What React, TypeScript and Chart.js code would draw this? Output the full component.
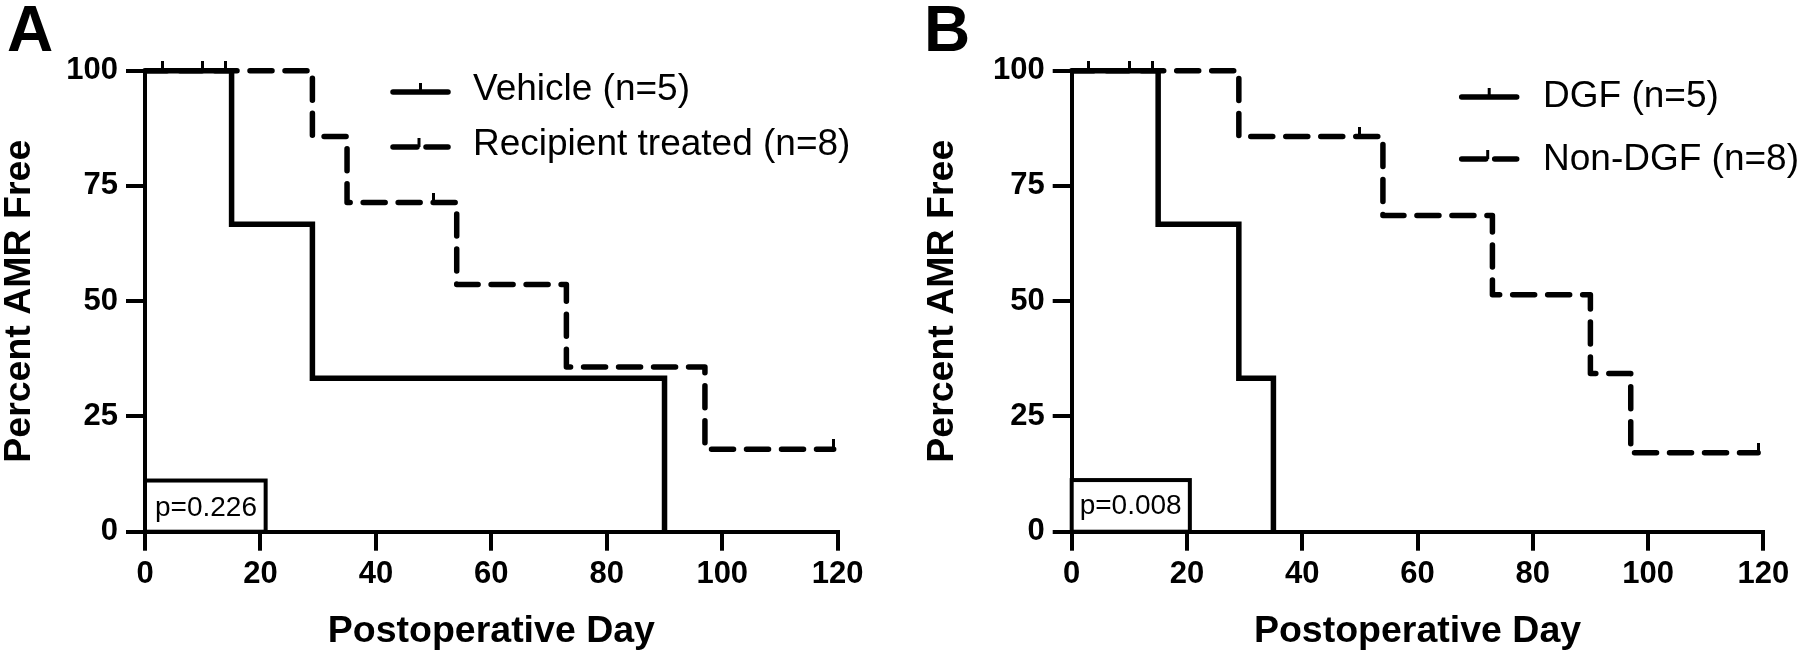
import React, { useEffect, useRef } from 'react';
import { Chart, registerables } from 'chart.js';

Chart.register(...registerables);

const FONT = '"Liberation Sans", Arial, Helvetica, sans-serif';

// Axis ticks
const xTickStep = 20;
const xMin = 0;
const xMax = 120;
const yTickStep = 25;
const yMin = 0;
const yMax = 100;

// Panel A
const panelALetter = 'A';
const panelALabels = ['Vehicle (n=5)', 'Recipient treated (n=8)'];
const panelAP = 'p=0.226';
const vehicleDays = [0, 15, 29, 90];
const vehiclePct = [100, 66.7, 33.3, 0];
const vehicleCensorDays = [3, 10];
const vehicleCensorPct = [100, 100];
const recipientDays = [0, 29, 35, 54, 73, 97, 119.3];
const recipientPct = [100, 85.7, 71.4, 53.6, 35.7, 17.9, 17.9];
const recipientCensorDays = [14, 50, 119.3];
const recipientCensorPct = [100, 71.4, 17.9];

// Panel B
const panelBLetter = 'B';
const panelBLabels = ['DGF (n=5)', 'Non-DGF (n=8)'];
const panelBP = 'p=0.008';
const dgfDays = [0, 15, 29, 35];
const dgfPct = [100, 66.7, 33.3, 0];
const dgfCensorDays = [3, 10];
const dgfCensorPct = [100, 100];
const nonDgfDays = [0, 29, 54, 73, 90, 97, 119.1];
const nonDgfPct = [100, 85.7, 68.6, 51.4, 34.3, 17.1, 17.1];
const nonDgfCensorDays = [14, 50, 119.1];
const nonDgfCensorPct = [100, 85.7, 17.1];

const xTitle = 'Postoperative Day';
const yTitle = 'Percent AMR Free';

function zip(xs: number[], ys: number[]) {
  return xs.map((x, i) => ({ x, y: ys[i] }));
}

let tickImg: HTMLCanvasElement | null = null;
function censorTick(): HTMLCanvasElement {
  if (tickImg) return tickImg;
  const c = document.createElement('canvas');
  c.width = 3;
  c.height = 20;
  const ctx = c.getContext('2d')!;
  ctx.fillStyle = '#000';
  ctx.fillRect(0, 0, 3, 10);
  tickImg = c;
  return c;
}

const kmLegendPlugin = {
  id: 'kmLegend',
  afterDatasetsDraw(chart: any, _args: any, opts: any) {
    const ctx = chart.ctx as CanvasRenderingContext2D;
    const items = chart.data.datasets.filter((d: any) => d.kmLegend);
    ctx.save();
    items.forEach((ds: any, i: number) => {
      const ly = opts.lineY[i];
      const x0 = opts.x;
      const x1 = opts.x + opts.lineLength;
      ctx.strokeStyle = '#000';
      ctx.lineWidth = 5.5;
      ctx.lineCap = 'round';
      const seg = (a: number, b: number) => {
        ctx.beginPath();
        ctx.moveTo(a, ly);
        ctx.lineTo(b, ly);
        ctx.stroke();
      };
      let tickX;
      if (ds.borderDash && ds.borderDash.length) {
        seg(x0, x0 + 24);
        seg(x0 + 33, x1);
        tickX = x0 + 26;
      } else {
        seg(x0, x1);
        tickX = (x0 + x1) / 2;
      }
      ctx.lineCap = 'butt';
      ctx.lineWidth = 3;
      ctx.beginPath();
      ctx.moveTo(tickX, ly);
      ctx.lineTo(tickX, ly - 9);
      ctx.stroke();
      ctx.fillStyle = '#000';
      ctx.font = `37px ${FONT}`;
      ctx.textBaseline = 'middle';
      ctx.textAlign = 'left';
      ctx.fillText(ds.label, opts.textX, opts.textY[i]);
    });
    ctx.restore();
  },
};

const pBoxPlugin = {
  id: 'pBox',
  afterDatasetsDraw(chart: any, _args: any, opts: any) {
    const ctx = chart.ctx as CanvasRenderingContext2D;
    const xs = chart.scales.x;
    const ys = chart.scales.y;
    const l = xs.getPixelForValue(0);
    const r = xs.getPixelForValue(opts.boxDay);
    const t = ys.getPixelForValue(opts.boxPct);
    const b = ys.getPixelForValue(0);
    ctx.save();
    ctx.fillStyle = '#fff';
    ctx.fillRect(l, t, r - l, b - t);
    ctx.strokeStyle = '#000';
    ctx.lineWidth = 4;
    ctx.strokeRect(l, t, r - l, b - t);
    ctx.fillStyle = '#000';
    ctx.font = `28px ${FONT}`;
    ctx.textBaseline = 'alphabetic';
    ctx.textAlign = 'left';
    ctx.fillText(opts.text, l + opts.textDx, b - opts.textDy);
    ctx.restore();
  },
};

type PanelSpec = {
  letter: string;
  labels: string[];
  p: string;
  solid: { x: number; y: number }[];
  solidCensor: { x: number; y: number }[];
  dashed: { x: number; y: number }[];
  dashedCensor: { x: number; y: number }[];
  padLeft: number;
  padRight: number;
  yWidth: number;
  yTitlePad: number;
  legend: any;
  pbox: any;
};

function makeConfig(s: PanelSpec): any {
  const tick = censorTick();
  return {
    type: 'line',
    data: {
      datasets: [
        {
          label: s.labels[0],
          kmLegend: true,
          data: s.solid,
          borderColor: '#000',
          borderWidth: 5.5,
          stepped: 'before',
          pointRadius: 0,
          fill: false,
          borderCapStyle: 'butt',
          borderJoinStyle: 'miter',
          clip: false,
        },
        {
          label: s.labels[1],
          kmLegend: true,
          data: s.dashed,
          borderColor: '#000',
          borderWidth: 5.5,
          borderDash: [22, 13],
          borderCapStyle: 'round',
          borderJoinStyle: 'round',
          stepped: 'before',
          pointRadius: 0,
          fill: false,
          clip: false,
        },
        {
          label: s.labels[0] + ' censored',
          data: s.solidCensor,
          showLine: false,
          pointStyle: tick,
          pointRadius: 5,
          clip: false,
        },
        {
          label: s.labels[1] + ' censored',
          data: s.dashedCensor,
          showLine: false,
          pointStyle: tick,
          pointRadius: 5,
          clip: false,
        },
      ],
    },
    options: {
      responsive: false,
      animation: false,
      events: [],
      layout: { padding: { left: s.padLeft, right: s.padRight, top: 0, bottom: 0 } },
      plugins: {
        legend: { display: false },
        tooltip: { enabled: false },
        title: {
          display: true,
          text: s.letter,
          align: 'start',
          color: '#000',
          font: { family: FONT, size: 64, weight: 'bold', lineHeight: 1 },
          padding: { top: 1.6, bottom: 5.1 },
        },
        kmLegend: s.legend,
        pBox: s.pbox,
      },
      scales: {
        x: {
          type: 'linear',
          min: xMin,
          max: xMax,
          afterFit: (scale: any) => {
            scale.height = 124.3;
          },
          ticks: {
            stepSize: xTickStep,
            color: '#000',
            padding: 5,
            font: { family: FONT, size: 31, weight: 'bold' },
            maxRotation: 0,
            autoSkip: false,
          },
          grid: {
            drawOnChartArea: false,
            drawTicks: true,
            tickLength: 19,
            tickWidth: 4,
            lineWidth: 4,
            color: '#000',
            tickColor: '#000',
          },
          border: { display: true, color: '#000', width: 4 },
          title: {
            display: true,
            text: xTitle,
            color: '#000',
            font: { family: FONT, size: 37.5, weight: 'bold', lineHeight: 1 },
            padding: { top: 0, bottom: 6 },
          },
        },
        y: {
          type: 'linear',
          min: yMin,
          max: yMax,
          afterFit: (scale: any) => {
            scale.width = s.yWidth;
          },
          ticks: {
            stepSize: yTickStep,
            color: '#000',
            padding: 8,
            font: { family: FONT, size: 31, weight: 'bold' },
          },
          grid: {
            drawOnChartArea: false,
            drawTicks: true,
            tickLength: 19,
            tickWidth: 4,
            lineWidth: 4,
            color: '#000',
            tickColor: '#000',
          },
          border: { display: true, color: '#000', width: 4 },
          title: {
            display: true,
            text: yTitle,
            color: '#000',
            font: { family: FONT, size: 37.5, weight: 'bold', lineHeight: 1 },
            padding: { top: s.yTitlePad, bottom: 0 },
          },
        },
      },
    },
    plugins: [kmLegendPlugin, pBoxPlugin],
  };
}

const panelA: PanelSpec = {
  letter: panelALetter,
  labels: panelALabels,
  p: panelAP,
  solid: zip(vehicleDays, vehiclePct),
  solidCensor: zip(vehicleCensorDays, vehicleCensorPct),
  dashed: zip(recipientDays, recipientPct),
  dashedCensor: zip(recipientCensorDays, recipientCensorPct),
  padLeft: 7,
  padRight: 62.3,
  yWidth: 138,
  yTitlePad: -6,
  legend: { x: 393, lineLength: 55, lineY: [92, 147], textX: 473, textY: [90, 145] },
  pbox: { text: panelAP, boxDay: 20.9, boxPct: 11.1, textDx: 10, textDy: 16 },
};

const panelB: PanelSpec = {
  letter: panelBLetter,
  labels: panelBLabels,
  p: panelBP,
  solid: zip(dgfDays, dgfPct),
  solidCensor: zip(dgfCensorDays, dgfCensorPct),
  dashed: zip(nonDgfDays, nonDgfPct),
  dashedCensor: zip(nonDgfCensorDays, nonDgfCensorPct),
  padLeft: 24,
  padRight: 36.7,
  yWidth: 147.7,
  yTitlePad: 0,
  legend: { x: 561.7, lineLength: 55, lineY: [97, 159], textX: 643, textY: [97, 160] },
  pbox: { text: panelBP, boxDay: 20.5, boxPct: 11.2, textDx: 8, textDy: 18 },
};

function Panel({ spec, left }: { spec: PanelSpec; left: number }) {
  const ref = useRef<HTMLCanvasElement | null>(null);
  useEffect(() => {
    if (!ref.current) return;
    const chart = new Chart(ref.current, makeConfig(spec));
    return () => chart.destroy();
  }, [spec]);
  return (
    <canvas
      ref={ref}
      width={900}
      height={656}
      style={{ position: 'absolute', left, top: 0, width: 900, height: 656, display: 'block' }}
    />
  );
}

export default function App() {
  return (
    <div style={{ position: 'absolute', left: 0, top: 0, width: 1800, height: 656, background: '#fff', overflow: 'hidden' }}>
      <Panel spec={panelA} left={0} />
      <Panel spec={panelB} left={900} />
    </div>
  );
}
